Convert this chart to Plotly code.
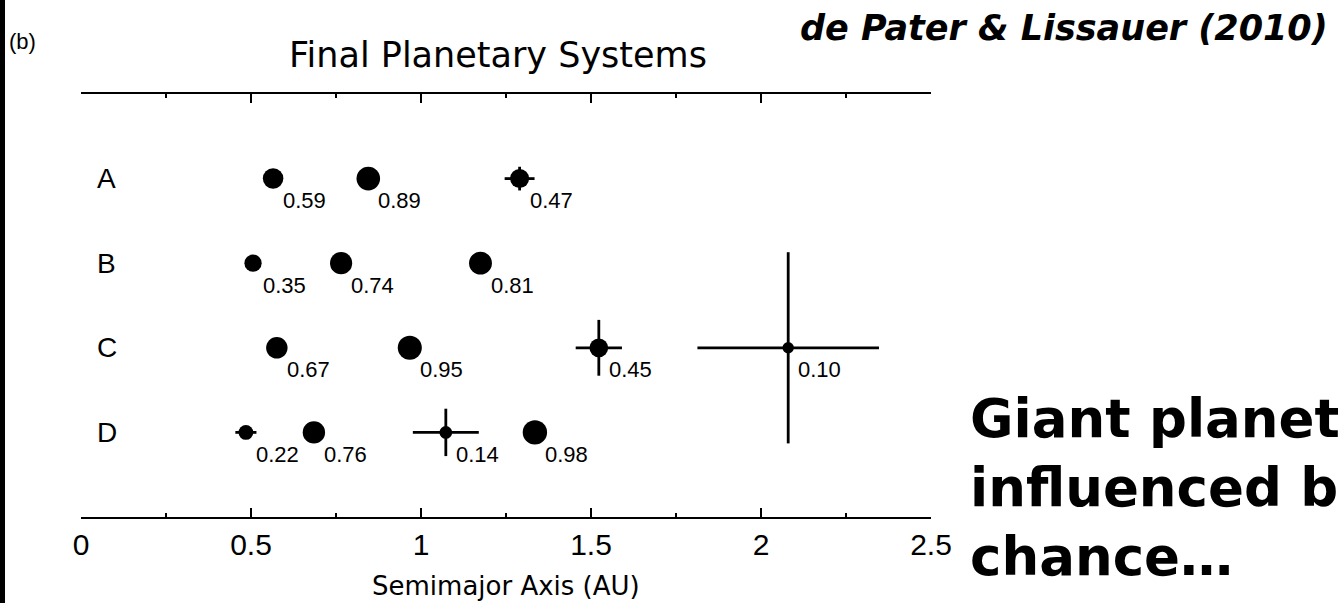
import plotly.graph_objects as go

# Final planetary systems from four runs (A-D)
systems = ["A", "B", "C", "D"]
rows = [4, 3, 2, 1]

# semimajor axis (AU)
axis_A = [0.565, 0.845, 1.29]
axis_B = [0.506, 0.765, 1.175]
axis_C = [0.576, 0.967, 1.523, 2.08]
axis_D = [0.485, 0.685, 1.073, 1.335]

# planet mass (Earth masses)
mass_A = [0.59, 0.89, 0.47]
mass_B = [0.35, 0.74, 0.81]
mass_C = [0.67, 0.95, 0.45, 0.10]
mass_D = [0.22, 0.76, 0.14, 0.98]

# horizontal bar half-length: radial excursion (AU)
radial_A = [0.0, 0.0, 0.044]
radial_B = [0.0, 0.0, 0.0]
radial_C = [0.0, 0.0, 0.068, 0.267]
radial_D = [0.031, 0.0, 0.097, 0.0]

# vertical bar half-length: inclination (row units)
incl_A = [0.0, 0.0, 0.14]
incl_B = [0.0, 0.0, 0.0]
incl_C = [0.0, 0.0, 0.33, 1.13]
incl_D = [0.0, 0.0, 0.28, 0.0]

tick_vals = [0, 0.5, 1, 1.5, 2, 2.5]
tick_text = ["0", "0.5", "1", "1.5", "2", "2.5"]

axes = [axis_A, axis_B, axis_C, axis_D]
masses = [mass_A, mass_B, mass_C, mass_D]
radials = [radial_A, radial_B, radial_C, radial_D]
incls = [incl_A, incl_B, incl_C, incl_D]

ARIAL = "Liberation Sans, Arial, Helvetica, sans-serif"
WIDE = "DejaVu Sans, Verdana, sans-serif"

fig = go.Figure()
annotations = []

for name, row, a, m, dx, dy in zip(systems, rows, axes, masses, radials, incls):
    fig.add_trace(go.Scatter(
        x=a,
        y=[row] * len(a),
        mode="markers",
        marker=dict(color="black", opacity=1,
                    size=[24.5 * v ** (1 / 3) for v in m],
                    line=dict(width=0)),
        error_x=dict(type="data", array=dx, symmetric=True, thickness=2.8,
                     width=0, color="black"),
        error_y=dict(type="data", array=dy, symmetric=True, thickness=2.8,
                     width=0, color="black"),
        showlegend=False,
        hoverinfo="skip",
    ))
    # row letter
    annotations.append(dict(
        x=0.076, y=row, xref="x", yref="y", text=name, showarrow=False,
        xanchor="center", yanchor="middle",
        font=dict(family=ARIAL, size=28, color="black"),
    ))
    # mass labels below-right of each planet
    for xv, mv in zip(a, m):
        annotations.append(dict(
            x=xv, y=row, xref="x", yref="y", text=f"{mv:.2f}",
            showarrow=False, xanchor="left", yanchor="middle",
            xshift=8, yshift=-22,
            font=dict(family=ARIAL, size=22, color="black"),
        ))

# figure titles and slide text
annotations += [
    dict(x=0.49, y=1.092, xref="paper", yref="paper",
         text="Final Planetary Systems", showarrow=False,
         xanchor="center", yanchor="middle",
         font=dict(family=WIDE, size=35, color="black")),
    dict(x=0.5, y=-0.163, xref="paper", yref="paper",
         text="Semimajor Axis (AU)", showarrow=False,
         xanchor="center", yanchor="middle",
         font=dict(family=WIDE, size=26, color="black")),
    dict(x=-0.0871, y=1.125, xref="paper", yref="paper",
         text="(b)", showarrow=False, xanchor="left", yanchor="middle",
         font=dict(family=ARIAL, size=22, color="black")),
    dict(x=1.469, y=1.156, xref="paper", yref="paper",
         text="<b><i>de Pater &amp; Lissauer (2010)</i></b>", showarrow=False,
         xanchor="right", yanchor="middle",
         font=dict(family=WIDE, size=35, color="black")),
    dict(x=1.0435, y=0.0686, xref="paper", yref="paper",
         text="<b>Giant planets<br>influenced by<br>chance…</b>", showarrow=False,
         xanchor="left", yanchor="middle", align="left",
         font=dict(family=WIDE, size=53, color="black")),
]

fig.update_layout(
    width=1338, height=603,
    margin=dict(l=81, r=407, t=94, b=86),
    paper_bgcolor="white", plot_bgcolor="white",
    annotations=annotations,
    shapes=[dict(type="rect", xref="paper", yref="paper",
                 x0=-0.0953, x1=-0.0894, y0=-0.3, y1=1.35,
                 fillcolor="black", line=dict(width=0), layer="above")],
    showlegend=False,
)

fig.update_xaxes(
    range=[0, 2.5],
    tickvals=tick_vals, ticktext=tick_text,
    ticks="inside", ticklen=9, tickwidth=2, tickcolor="black",
    showline=True, linecolor="black", linewidth=2, mirror="ticks",
    showgrid=False, zeroline=False,
    tickfont=dict(family=ARIAL, size=30, color="black"),
    ticklabelstandoff=0,
    minor=dict(tickvals=[0.25, 0.75, 1.25, 1.75, 2.25], ticks="inside",
               ticklen=4, tickwidth=2, tickcolor="black", showgrid=False),
)
fig.update_yaxes(range=[0, 5], visible=False, showgrid=False, zeroline=False)

fig.write_html("out.html")
